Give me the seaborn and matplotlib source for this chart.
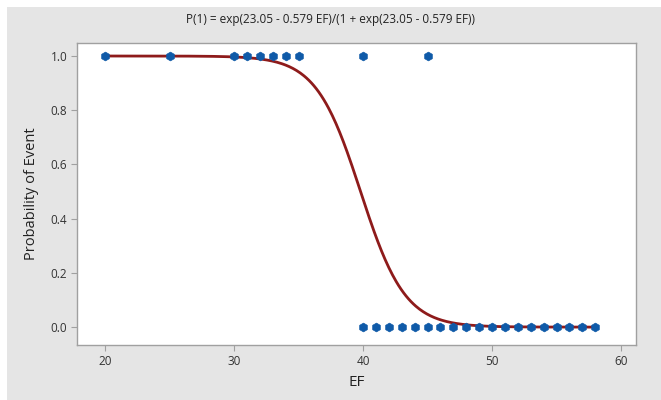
import numpy as np
import pandas as pd
import matplotlib
matplotlib.use("Agg")
import matplotlib.pyplot as plt
import seaborn as sns
from matplotlib.patches import Rectangle

# Data
ef_event = [20, 25, 30, 31, 32, 33, 34, 35, 40, 45]
ef_nonevent = [40, 41, 42, 43, 44, 45, 46, 47, 48, 49, 50, 51, 52, 53, 54, 55, 56, 57, 58]
b0, b1 = 23.05, -0.579
curve_x_min, curve_x_max = 20, 58
x_ticks = [20, 30, 40, 50, 60]
y_ticks = [0.0, 0.2, 0.4, 0.6, 0.8, 1.0]

pts = pd.DataFrame({
    "EF": ef_event + ef_nonevent,
    "P": [1.0] * len(ef_event) + [0.0] * len(ef_nonevent),
})
xs = np.linspace(curve_x_min, curve_x_max, 400)
eta = b0 + b1 * xs
curve = pd.DataFrame({"EF": xs, "P": np.exp(eta) / (1 + np.exp(eta))})

sns.set_theme(style="white")
plt.rcParams['font.family'] = ['Open Sans', 'DejaVu Sans']

fig = plt.figure(figsize=(6.61, 4.0), dpi=100)
fig.patch.set_facecolor("white")
fig.patches.append(Rectangle((7 / 661, 0), 1 - 7 / 661, 1 - 7 / 400,
                             transform=fig.transFigure, facecolor="#e5e5e5",
                             edgecolor="none", zorder=-10))
ax = fig.add_axes([77 / 661, 1 - 345 / 400, 559 / 661, 302 / 400])
ax.set_facecolor("white")

sns.lineplot(data=curve, x="EF", y="P", ax=ax, color="#8e1b1b", linewidth=2.0, zorder=2)
sns.scatterplot(data=pts, x="EF", y="P", ax=ax, color="#0f5aa8", marker="h",
                s=40, edgecolor="#0f5aa8", linewidth=0.5, zorder=3)

ax.set_xlim(17.83, 61.16)
ax.set_ylim(-0.066, 1.048)
ax.set_xticks(x_ticks)
ax.set_yticks(y_ticks)
ax.set_yticklabels([f"{v:.1f}" for v in y_ticks])
ax.tick_params(axis="both", which="both", direction="out", length=4, width=0.8,
               color="#a0a0a0", labelsize=8.5, labelcolor="#333333", pad=3,
               bottom=True, left=True)
for s in ax.spines.values():
    s.set_color("#a0a0a0")
    s.set_linewidth(1.0)

ax.set_xlabel("EF", fontsize=11, color="#222222", labelpad=5)
ax.set_ylabel("Probability of Event", fontsize=10.5, color="#222222", labelpad=8)
fig.text(330 / 661, 1 - 20 / 400, "P(1) = exp(23.05 - 0.579 EF)/(1 + exp(23.05 - 0.579 EF))",
         ha="center", va="center", fontsize=8.5, color="#222222")

fig.savefig("out.png", dpi=100)
